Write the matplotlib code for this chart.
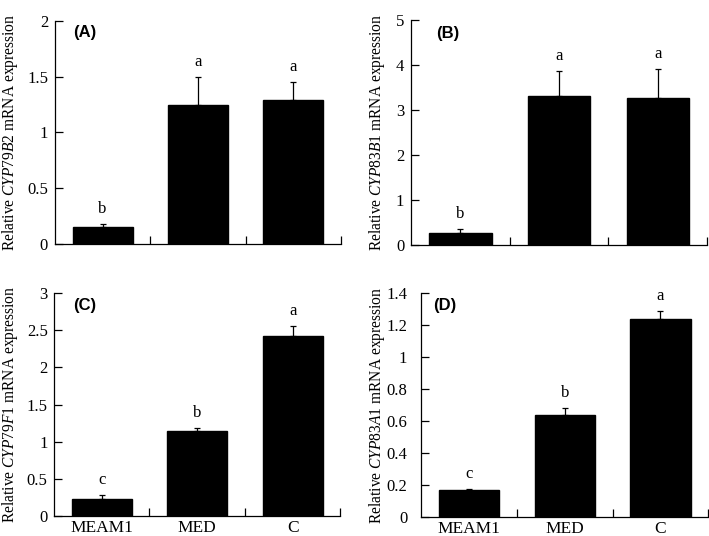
import matplotlib
matplotlib.use('Agg')
import matplotlib.pyplot as plt
from matplotlib.ticker import FixedLocator

plt.rcParams['font.family'] = 'Liberation Serif'
plt.rcParams['mathtext.fontset'] = 'custom'
plt.rcParams['mathtext.rm'] = 'Liberation Serif'
plt.rcParams['mathtext.it'] = 'Liberation Serif:italic'

groups = ['MEAM1', 'MED', 'C']

genes = ['CYP79B2', 'CYP83B1', 'CYP79F1', 'CYP83A1']
panel_tags = ['(A)', '(B)', '(C)', '(D)']

means_a = [0.15, 1.25, 1.29]
err_a = [0.025, 0.25, 0.16]
means_b = [0.26, 3.30, 3.27]
err_b = [0.10, 0.57, 0.64]
means_c = [0.23, 1.14, 2.42]
err_c = [0.05, 0.05, 0.14]
means_d = [0.17, 0.64, 1.24]
err_d = [0.006, 0.04, 0.05]

letters_a = ['b', 'a', 'a']
letters_b = ['b', 'a', 'a']
letters_c = ['c', 'b', 'a']
letters_d = ['c', 'b', 'a']

ymax = [2, 5, 3, 1.4]
ysteps = [0.5, 1, 0.5, 0.2]
ytick_text = [['0', '0.5', '1', '1.5', '2'],
              ['0', '1', '2', '3', '4', '5'],
              ['0', '0.5', '1', '1.5', '2', '2.5', '3'],
              ['0', '0.2', '0.4', '0.6', '0.8', '1', '1.2', '1.4']]

# axes boxes [left, bottom, width, height] in figure fractions
boxes = [[0.0776, 0.545, 0.403, 0.416],
         [0.580, 0.543, 0.417, 0.420],
         [0.076, 0.0373, 0.404, 0.416],
         [0.594, 0.0354, 0.405, 0.418]]
label_x = [-0.121, -0.081, -0.119, -0.119]
ytick_pad = [5, 5, 4.5, 10]
tag_pos = [(0.063, 0.946), (0.084, 0.94), (0.066, 0.946), (0.042, 0.946)]

all_means = [means_a, means_b, means_c, means_d]
all_err = [err_a, err_b, err_c, err_d]
all_letters = [letters_a, letters_b, letters_c, letters_d]

fig = plt.figure(figsize=(7.09, 5.36), dpi=100)

for i in range(4):
    ax = fig.add_axes(boxes[i])
    x = range(len(groups))
    ax.bar(x, all_means[i], width=0.63, color='black', edgecolor='black',
           yerr=[[0] * 3, all_err[i]], error_kw=dict(ecolor='black', elinewidth=0.9,
                                                   capsize=2.5, capthick=0.9))
    for j in x:
        top = all_means[i][j] + all_err[i][j]
        ax.annotate(all_letters[i][j], (j, top), xytext=(0, 5), textcoords='offset points',
                    ha='center', va='bottom', fontsize=12)

    ax.set_xlim(-0.5, 2.5)
    ax.set_ylim(0, ymax[i])
    n = len(ytick_text[i])
    ax.set_yticks([k * ysteps[i] for k in range(n)])
    ax.set_yticklabels(ytick_text[i], fontsize=12)
    ax.tick_params(axis='y', direction='in', length=6, width=0.9, pad=ytick_pad[i])

    ax.set_xticks([0, 1, 2])
    if i >= 2:
        ax.set_xticklabels(groups, fontsize=12.5)
    else:
        ax.set_xticklabels([])
    ax.tick_params(axis='x', which='major', length=0, pad=3)
    ax.xaxis.set_minor_locator(FixedLocator([0.5, 1.5, 2.5]))
    ax.tick_params(axis='x', which='minor', direction='in', length=6, width=0.9)

    for s in ['top', 'right']:
        ax.spines[s].set_visible(False)
    for s in ['left', 'bottom']:
        ax.spines[s].set_linewidth(0.9)

    ax.set_ylabel('Relative $\\mathit{' + genes[i] + '}$ mRNA expression', fontsize=11.2)
    ax.yaxis.set_label_coords(label_x[i], 0.5)

    ax.text(tag_pos[i][0], tag_pos[i][1], panel_tags[i], transform=ax.transAxes,
            fontsize=12, fontweight='bold', family='Liberation Sans', va='center', ha='left')

fig.savefig('out.png', dpi=100)
